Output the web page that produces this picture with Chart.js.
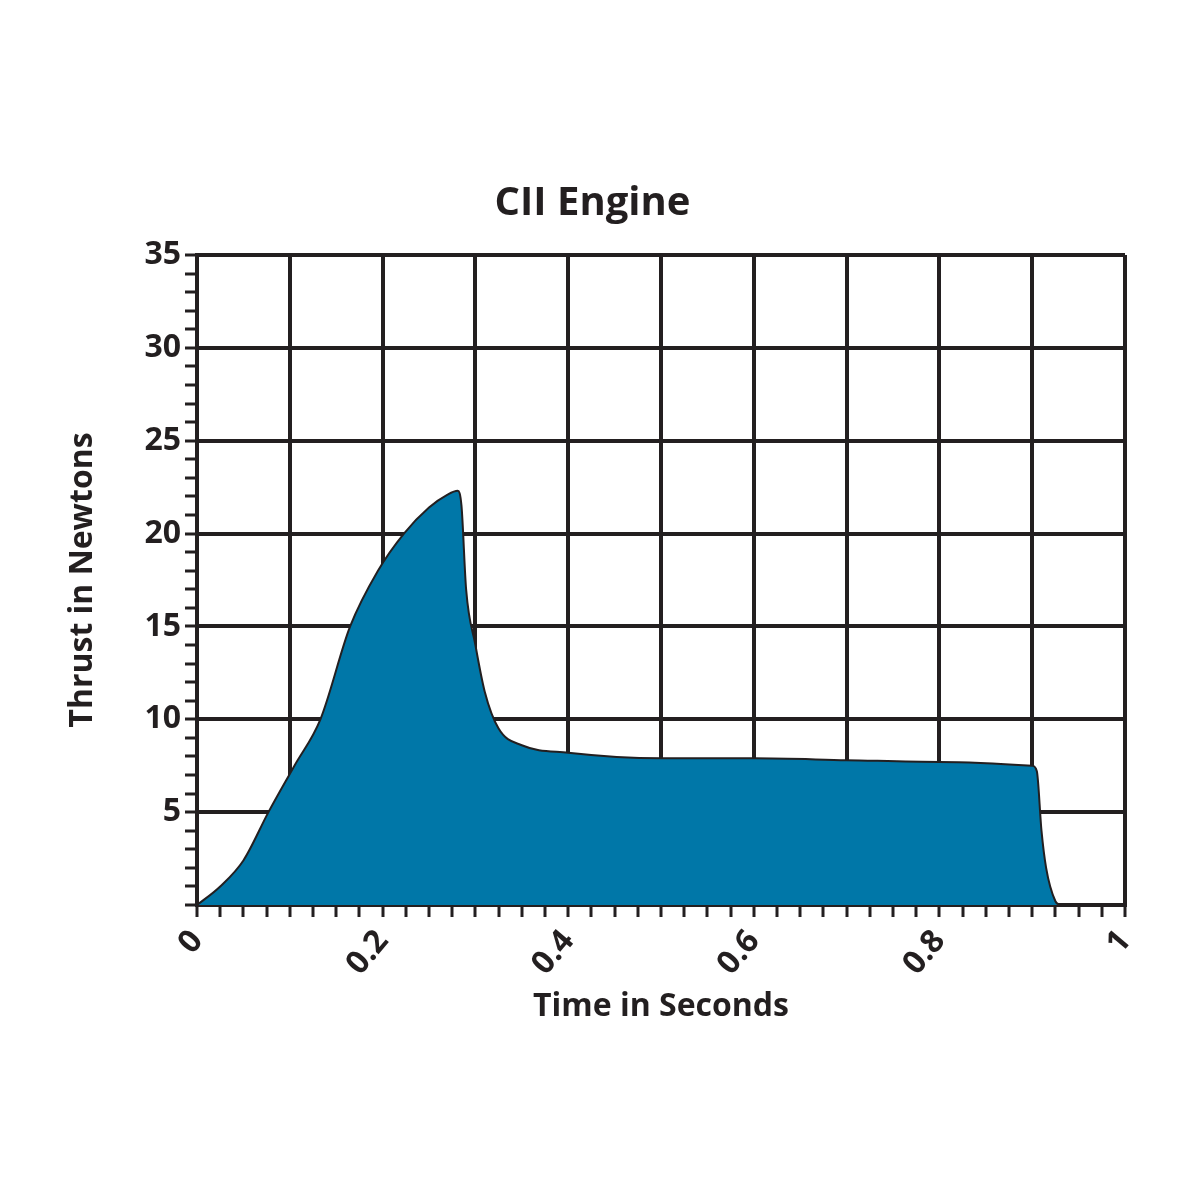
<!DOCTYPE html>
<html>
<head>
<meta charset="utf-8">
<script src="https://cdn.jsdelivr.net/npm/chart.js@4"></script>
<style>
  body { margin: 0; background: #fff; }
</style>
</head>
<body>
<canvas id="c" width="1200" height="1200"></canvas>
<script>
// thrust curve
const timeSec = [0, 0.025, 0.05, 0.077, 0.105, 0.133, 0.165, 0.195, 0.223, 0.25, 0.27, 0.281,
    0.285, 0.29, 0.3, 0.31, 0.325, 0.35, 0.4, 0.5, 0.6, 0.7, 0.8, 0.9, 0.905, 0.91, 0.915, 0.925, 0.93];
const thrustN = [0, 1.0, 2.4, 5, 7.5, 10, 15, 18, 20, 21.4, 22.1, 22.3,
    21.5, 17, 14, 11.5, 9.5, 8.6, 8.2, 7.9, 7.9, 7.8, 7.7, 7.5, 7.2, 4, 2, 0.2, 0];
const xLabels = [0, 0.2, 0.4, 0.6, 0.8, 1];
const yLabels = [5, 10, 15, 20, 25, 30, 35];

const ink = '#231f20';
const font = { family: 'Open Sans', weight: 'bold', size: 32 };
const near = (v, step) => Math.abs(v / step - Math.round(v / step)) < 1e-6;

new Chart(document.getElementById('c'), {
    type: 'line',
    data: {
        datasets: [{
            data: timeSec.map((t, i) => ({ x: t, y: thrustN[i] })),
            borderColor: ink,
            borderWidth: 2,
            backgroundColor: '#0077a8',
            fill: 'origin',
            pointRadius: 0,
            cubicInterpolationMode: 'monotone'
        }]
    },
    options: {
        responsive: false,
        animation: false,
        layout: { padding: { top: 180, left: 60, right: 75, bottom: 170 } },
        plugins: {
            legend: { display: false },
            tooltip: { enabled: false },
            title: {
                display: true, text: 'CII Engine', color: ink,
                font: { family: 'Open Sans', weight: 'bold', size: 40 },
                padding: { top: 0, bottom: 27 }
            }
        },
        scales: {
            x: {
                type: 'linear', min: 0, max: 1,
                afterFit: s => { s.height = 125; },
                ticks: {
                    stepSize: 0.025, autoSkip: false, color: ink, font, padding: 6,
                    callback: v => xLabels.some(l => Math.abs(l - v) < 1e-6) ? String(v) : ''
                },
                grid: {
                    lineWidth: 4, tickLength: 12,
                    color: c => near(c.tick.value, 0.1) && c.tick.value > 0 ? ink : 'rgba(0,0,0,0)',
                    tickColor: ink, tickWidth: 3
                },
                border: { display: true, color: ink, width: 4 },
                title: { display: true, text: 'Time in Seconds', color: ink, font, padding: { top: 10 } }
            },
            y: {
                min: 0, max: 35,
                afterFit: s => { s.width = 137; },
                ticks: {
                    stepSize: 1, autoSkip: false, color: ink, font, padding: 4,
                    callback: v => yLabels.includes(v) ? String(v) : ''
                },
                grid: {
                    lineWidth: 4, tickLength: 12,
                    color: c => near(c.tick.value, 5) && c.tick.value > 0 ? ink : 'rgba(0,0,0,0)',
                    tickColor: ink, tickWidth: 3
                },
                border: { display: true, color: ink, width: 4 },
                title: { display: true, text: 'Thrust in Newtons', color: ink, font, padding: { bottom: 4 } }
            }
        }
    }
});
</script>
</body>
</html>
